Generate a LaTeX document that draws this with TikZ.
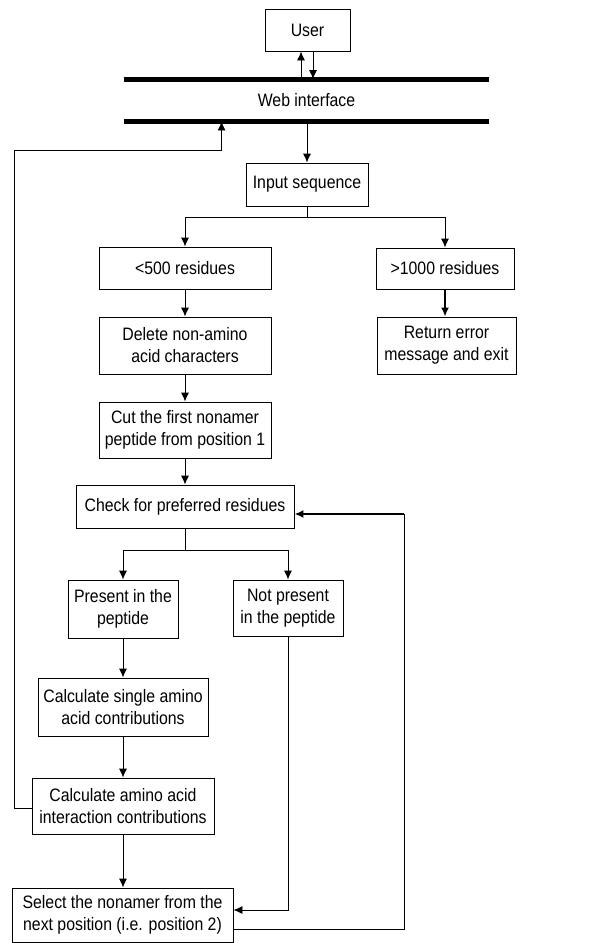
\documentclass[tikz,border=0pt]{standalone}
\usepackage{fontspec}
\setmainfont{Liberation Sans}[FakeStretch=0.88]
\usetikzlibrary{arrows.meta}
\tikzstyle{every path} = [line width=0.9pt]
\tikzstyle{flow} = [-{Latex[length=9pt,width=8pt]}]
\tikzstyle{procbox} = [draw,align=center,inner sep=1pt,font=\fontsize{18}{22}\selectfont]
\tikzstyle{bar} = [line width=5pt]

\begin{document}
\begin{tikzpicture}[x=1pt,y=-1pt]
\useasboundingbox (0,0) rectangle (602,943);

\node[procbox,minimum width=85pt,minimum height=42pt] (user) at (307.5,30) {User};
\node[align=center,font=\fontsize{18}{22}\selectfont,minimum width=365pt,minimum height=41.5pt] (web) at (306.5,100.25) {Web interface};
\draw[bar] (web.north west) -- (web.north east);
\draw[bar] (web.south west) -- (web.south east);

\node[procbox,minimum width=122pt,minimum height=43pt] (input) at (307,184.5) {Input sequence};
\node[procbox,minimum width=172pt,minimum height=42pt] (small) at (185,268) {<500 residues};
\node[procbox,minimum width=138pt,minimum height=41pt] (large) at (445,268.5) {>1000 residues};
\node[procbox,minimum width=172pt,minimum height=57pt] (delete) at (185,345.5) {Delete non-amino\\acid characters};
\node[procbox,minimum width=139pt,minimum height=57pt] (error) at (446.5,345.5) {Return error\\message and exit};
\node[procbox,minimum width=172pt,minimum height=56pt] (cut) at (185,430) {Cut the first nonamer\\peptide from position 1};
\node[procbox,minimum width=218pt,minimum height=43pt] (check) at (185,506.5) {Check for preferred residues};
\node[procbox,minimum width=110pt,minimum height=58pt] (present) at (123,609) {Present in the\\peptide};
\node[procbox,minimum width=110pt,minimum height=56pt] (absent) at (288,608) {Not present\\in the peptide};
\node[procbox,minimum width=170pt,minimum height=58pt] (single) at (123,707) {Calculate single amino\\acid contributions};
\node[procbox,minimum width=182pt,minimum height=56pt] (interact) at (123,806) {Calculate amino acid\\interaction contributions};
\node[procbox,minimum width=221pt,minimum height=54pt] (select) at (122.5,915) {Select the nonamer from the\\next position (i.e. position 2)};

\coordinate (split1) at (307,217);
\coordinate (split2) at (185,550);
\coordinate (back) at (14,150);
\coordinate (loop) at (404,514);

% user <-> web interface
\draw[flow] ([xshift=-6.5pt]user.south |- web.north) -- ([xshift=-6.5pt]user.south);
\draw[flow] ([xshift=5.5pt]user.south) -- ([xshift=5.5pt]user.south |- web.north);
\draw[flow] (input.north |- web.south) -- (input.north);

% length check
\draw (input.south) -- (split1);
\draw[flow] (split1) -| (small.north);
\draw[flow] (split1) -| (large.north);
\draw[flow,line width=2pt] (large.south) -- (large.south |- error.north);
\draw[flow] (small.south) -- (delete.north);
\draw[flow] (delete.south) -- (cut.north);
\draw[flow] (cut.south) -- (check.north);

% residue check
\draw (check.south) -- (split2);
\draw[flow] (split2) -| (present.north);
\draw[flow] (split2) -| (absent.north);
\draw[flow] (present.south) -- (single.north);
\draw[flow] (single.south) -- (interact.north);
\draw[flow] (interact.south) -- (interact.south |- select.north);
\draw[flow] (absent.south) |- ([yshift=5pt]select.east);

% loops
\draw ([yshift=-14pt]select.east) -| (loop);
\draw[flow,line width=1.8pt] (loop) -- (loop -| check.east);
\draw[flow] ([yshift=-2pt]interact.west) -| (back) -| ([xshift=98pt]web.south west);

\end{tikzpicture}
\end{document}
